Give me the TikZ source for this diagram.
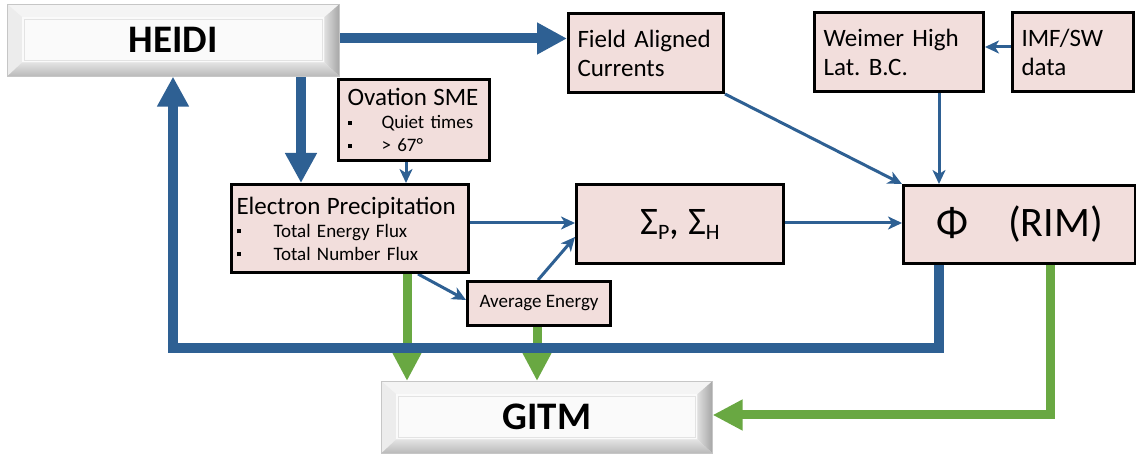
\documentclass[tikz,border=0pt]{standalone}
\usepackage{fontspec}
\setmainfont{Carlito}
\usetikzlibrary{arrows.meta,calc}
\pgfdeclarelayer{bg}
\pgfsetlayers{bg,main}

\definecolor{boxpink}{HTML}{F2DEDC}
\definecolor{flowblue}{HTML}{2E6093}
\definecolor{flowgreen}{HTML}{69A842}

% small square bullet followed by an indent of the given width
\newcommand\sqbul[1]{\makebox[#1][l]{\raisebox{0.2em}{\rule{4pt}{4pt}}}}
\newcommand\fsz[1]{\fontsize{#1}{#1}\selectfont}

\tikzset{
  pinkbox/.style={anchor=north west, draw=black, line width=3pt, fill=boxpink,
    inner xsep=9pt, inner ysep=0pt, align=left, font=\fontsize{25}{29}\selectfont\frenchspacing},
  centrebox/.style={anchor=north west, draw=black, line width=3pt, fill=boxpink,
    inner sep=0pt, align=center},
  bevelbox/.style={anchor=north west, inner sep=0pt, draw=gray!45, line width=0.6pt,
    fill=gray!10, font=\fontsize{39}{39}\bfseries\selectfont,
    path picture={
      \coordinate (p1) at (path picture bounding box.north west);
      \coordinate (p2) at (path picture bounding box.north east);
      \coordinate (p3) at (path picture bounding box.south east);
      \coordinate (p4) at (path picture bounding box.south west);
      \coordinate (q1) at ([shift={(15pt,-13pt)}]p1);
      \coordinate (q2) at ([shift={(-15pt,-13pt)}]p2);
      \coordinate (q3) at ([shift={(-15pt,14pt)}]p3);
      \coordinate (q4) at ([shift={(15pt,14pt)}]p4);
      \fill[gray!9] (p1)--(p2)--(q2)--(q1)--cycle;
      \fill[gray!15] (p1)--(q1)--(q4)--(p4)--cycle;
      \shade[left color=gray!25, right color=gray!70] (p2)--(p3)--(q3)--(q2)--cycle;
      \shade[top color=gray!22, bottom color=gray!55] (p4)--(p3)--(q3)--(q4)--cycle;
      \fill[gray!4] (q1) rectangle (q3);
      \draw[gray!22, line width=0.8pt] ([shift={(2pt,-2pt)}]q1) rectangle ([shift={(-2pt,2pt)}]q3);
    }},
  bigblue/.style={draw=flowblue, line width=10pt, -{Triangle[length=30pt,width=30pt]}},
  biggreen/.style={draw=flowgreen, line width=9pt, -{Triangle[length=30pt,width=29pt]}},
  thinblue/.style={draw=flowblue, line width=3pt, -{Stealth[length=14pt,width=13pt,inset=4pt]}},
}

\begin{document}
\begin{tikzpicture}[x=1pt, y=-1pt]
\useasboundingbox (0,0) rectangle (1136,454);

% model boxes
\node[bevelbox, minimum width=332pt, minimum height=72pt] (heidi) at (7,4) {HEIDI};
\node[bevelbox, minimum width=331pt, minimum height=72pt] (gitm) at (381,381) {GITM};

% input / process boxes
\node[pinkbox, text width=137pt, minimum height=79pt] (fac) at (567,12) {Field Aligned\\Currents};
\node[pinkbox, text width=151pt, minimum height=79pt] (weimer) at (813,11) {Weimer High\\Lat. B.C.};
\node[pinkbox, text width=103pt, minimum height=79pt] (imf) at (1011,11) {IMF/SW\\data};
\node[pinkbox, inner xsep=9pt, text width=133pt, minimum height=81pt,
      font=\fontsize{19}{23}\selectfont] (ovation) at (337,78)
  {{\fsz{25}Ovation SME}\\\sqbul{34pt}Quiet times\\\sqbul{34pt}> 67°};
\node[pinkbox, inner xsep=5pt, text width=227pt, minimum height=88pt,
      font=\fontsize{19}{23}\selectfont] (electron) at (230,183)
  {{\fsz{25}Electron Precipitation}\\\sqbul{37pt}Total Energy Flux\\\sqbul{37pt}Total Number Flux};
\node[centrebox, minimum width=207pt, minimum height=79pt, font=\fsz{39}] (sigma) at (575,183)
  {Σ\raisebox{-5pt}{\fsz{22}P}, Σ\raisebox{-5pt}{\fsz{22}H}};
\node[centrebox, minimum width=143pt, minimum height=44pt, font=\fsz{19}] (avg) at (466,280)
  {Average Energy};
\node[centrebox, minimum width=232pt, minimum height=78pt, font=\fsz{42}] (phi) at (902,184)
  {Φ\hspace{40pt}(RIM)};

\coordinate (loopR) at (939,348);
\coordinate (loopL) at (173,348);
\coordinate (gcorner) at (1050,415);

\begin{pgfonlayer}{bg}
  % feedback into GITM
  \draw[biggreen] (electron.south -| 407,0) -- (gitm.north -| 407,0);
  \draw[biggreen] (avg.south -| 537,0) -- (gitm.north -| 537,0);
  \draw[biggreen] (phi.south -| gcorner) -- (gcorner) -- (gitm.east |- gcorner);

  % HEIDI couplings
  \draw[bigblue] (heidi.east |- 0,38.5) -- (fac.west |- 0,38.5);
  \draw[bigblue] (heidi.south -| 301,0) -- (electron.north -| 301,0);
  \draw[bigblue] (phi.south -| loopR) -- (loopR) -- (loopL) -- (heidi.south -| loopL);

  % thin data flow
  \draw[thinblue] (ovation.south -| 406,0) -- (electron.north -| 406,0);
  \draw[thinblue] (electron.east |- 0,223) -- (sigma.west |- 0,223);
  \draw[thinblue] (electron.south -| 418,0) -- (avg.west |- 0,300);
  \draw[thinblue] (avg.north -| 538,0) -- (sigma.west |- 0,237);
  \draw[thinblue] (sigma.east |- 0,223) -- (phi.west |- 0,223);
  \draw[thinblue] (fac.south east) -- (phi.north west);
  \draw[thinblue] (weimer.south -| 939,0) -- (phi.north -| 939,0);
  \draw[thinblue] (imf.west |- 0,47) -- (weimer.east |- 0,47);
\end{pgfonlayer}
\end{tikzpicture}
\end{document}
